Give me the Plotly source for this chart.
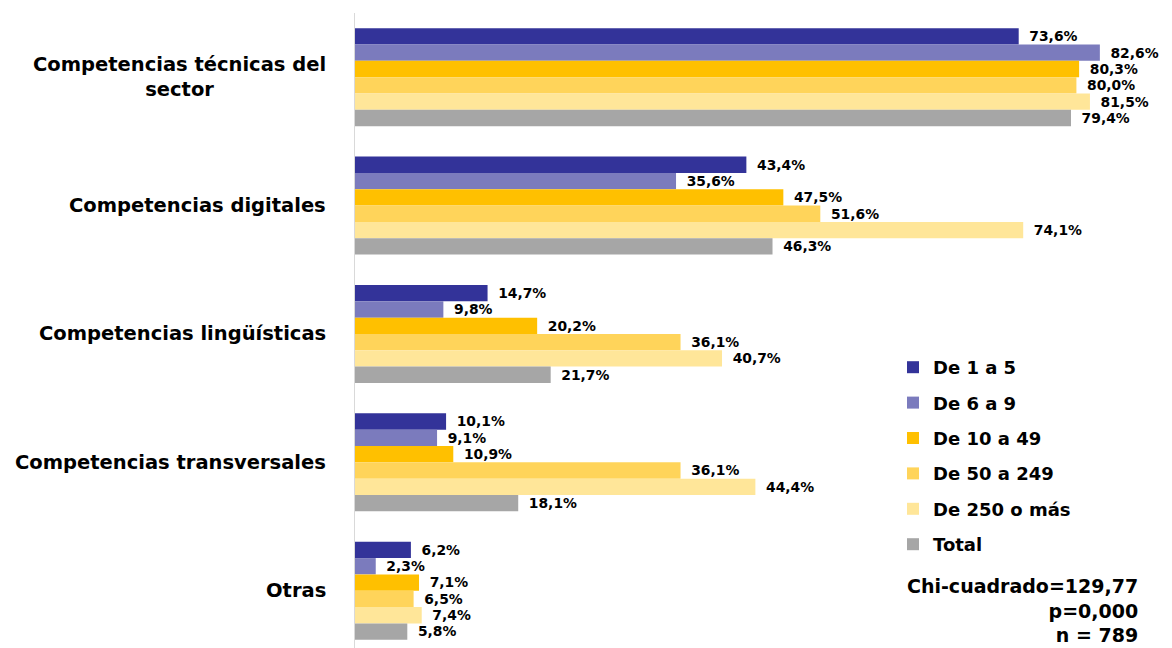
import plotly.graph_objects as go

categories = ["Competencias técnicas del<br>sector", "Competencias digitales",
              "Competencias lingüísticas", "Competencias transversales", "Otras"]
series_names = ["De 1 a 5", "De 6 a 9", "De 10 a 49", "De 50 a 249", "De 250 o más", "Total"]
values = {
    "De 1 a 5":     [73.6, 43.4, 14.7, 10.1, 6.2],
    "De 6 a 9":     [82.6, 35.6, 9.8, 9.1, 2.3],
    "De 10 a 49":   [80.3, 47.5, 20.2, 10.9, 7.1],
    "De 50 a 249":  [80.0, 51.6, 36.1, 36.1, 6.5],
    "De 250 o más": [81.5, 74.1, 40.7, 44.4, 7.4],
    "Total":        [79.4, 46.3, 21.7, 18.1, 5.8],
}
colors = ["#333399", "#7B7BBD", "#FFC000", "#FFD45A", "#FFE699", "#A6A6A6"]
stats_lines = ["Chi-cuadrado=129,77", "p=0,000", "n = 789"]

fig = go.Figure()
for name, col in zip(series_names, colors):
    fig.add_trace(go.Bar(
        y=categories, x=values[name], name=name, orientation="h",
        marker=dict(color=col, line=dict(width=0)),
        text=values[name], texttemplate="\u00a0\u2009%{x:.1f}%", textposition="outside",
        cliponaxis=False,
        textfont=dict(family="DejaVu Sans", size=17, color="#000000", weight="bold"),
        legendgroup=name,
    ))

W, H = 1172, 648
ml, mt, mb, mr = 355, 13, 0, 0
pw, ph = W - ml - mr, H - mt - mb

def py(ypix):
    return (H - mb - ypix) / ph

def px(xpix):
    return (xpix - ml) / pw

fig.update_layout(
    width=W, height=H,
    margin=dict(l=ml, r=mr, t=mt, b=mb, autoexpand=False),
    barmode="group", bargap=0.237, bargroupgap=0,
    plot_bgcolor="white", paper_bgcolor="white",
    separators=",.",
    showlegend=True,
    legend=dict(x=px(893), y=py(349), xanchor="left", yanchor="top",
                traceorder="grouped", tracegroupgap=9,
                font=dict(family="DejaVu Sans", size=18, color="#000000", weight="bold"),
                bgcolor="rgba(0,0,0,0)", itemwidth=30),
    xaxis=dict(range=[0, 90.6], showgrid=False, showticklabels=False, zeroline=False,
               showline=False, ticks="", automargin=False),
    yaxis=dict(range=[4.446, -0.5], showgrid=False, showline=True, linecolor="#D9D9D9",
               linewidth=1, ticks="", showticklabels=False, automargin=False),
)

# category labels (centered multi-line like the reference)
for cat in categories:
    fig.add_annotation(text=cat, xref="paper", yref="y", x=px(328), y=cat,
                       xanchor="right", yanchor="middle", align="center", showarrow=False,
                       font=dict(family="DejaVu Sans", size=19.5, color="#000000", weight="bold"))

fig.add_annotation(text="<br>".join(stats_lines), xref="paper", yref="paper",
                   x=px(1139), y=py(647), xanchor="right", yanchor="bottom", align="right",
                   showarrow=False, borderpad=0,
                   font=dict(family="DejaVu Sans", size=19, color="#000000", weight="bold"))

fig.write_html("out.html", config={"displayModeBar": False},
               post_script="document.body.style.margin='0';")
